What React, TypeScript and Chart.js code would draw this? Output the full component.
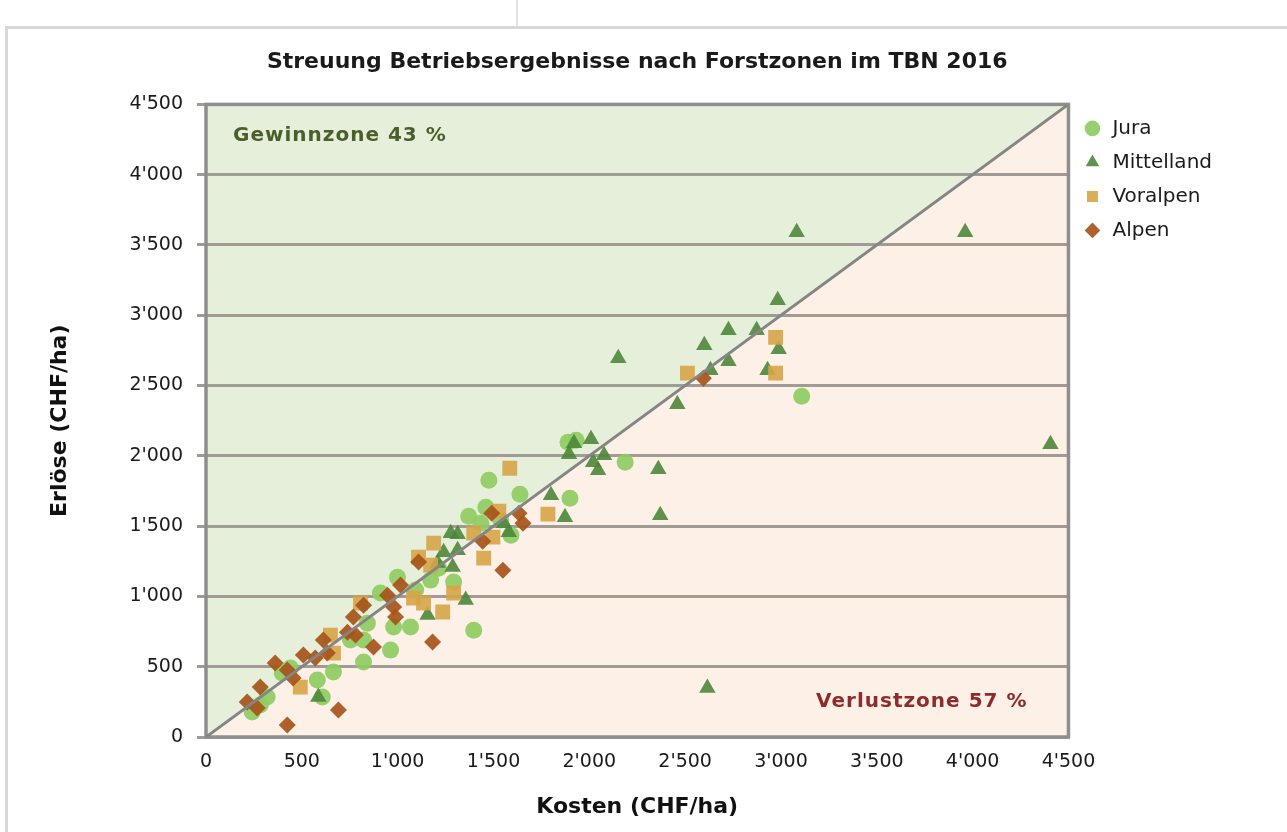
import React, { useEffect, useRef } from 'react';
import { Chart, registerables } from 'chart.js';

Chart.register(...registerables);

// ---------- text ----------
const TITLE = 'Streuung Betriebsergebnisse nach Forstzonen im TBN 2016';
const X_TITLE = 'Kosten (CHF/ha)';
const Y_TITLE = 'Erlöse (CHF/ha)';
const GAIN_LABEL = 'Gewinnzone 43 %';
const LOSS_LABEL = 'Verlustzone 57 %';

// ---------- axis ----------
const AXIS_MIN = 0;
const AXIS_MAX = 4500;
const AXIS_STEP = 500;

// ---------- series (Kosten, Erlöse) in CHF/ha ----------
const jura: [number, number][] = [
  [3108, 2424], [1889, 2097], [1931, 2111], [2187, 1955], [1899, 1699],
  [1638, 1727], [1476, 1827], [1371, 1571], [1460, 1635], [1591, 1436],
  [1434, 1521], [1538, 1543], [999, 1137], [910, 1024], [842, 810],
  [822, 690], [822, 533], [963, 618], [979, 782], [1067, 782],
  [581, 405], [665, 462], [607, 284], [319, 284], [241, 178],
  [283, 227], [1397, 760], [398, 455], [440, 490], [1292, 1102],
  [1214, 1201], [1172, 1116], [1094, 1045], [754, 690],
];

const mittelland: [number, number][] = [
  [3082, 3590], [3961, 3590], [4406, 2083], [2983, 3107], [2726, 2893],
  [2873, 2893], [2600, 2787], [2151, 2694], [2726, 2673], [2632, 2609],
  [2930, 2609], [2988, 2758], [2459, 2367], [2009, 2118], [1920, 2090],
  [1894, 2012], [2077, 2005], [2020, 1955], [2046, 1898], [2360, 1905],
  [1800, 1720], [1873, 1564], [2370, 1578], [2616, 348], [1277, 1450],
  [1313, 1443], [1240, 1315], [1313, 1329], [1554, 1521], [1287, 1209],
  [1355, 974], [1156, 867], [586, 284], [1209, 1237], [1580, 1457],
];

const voralpen: [number, number][] = [
  [2972, 2843], [2972, 2588], [2512, 2588], [1585, 1912], [1784, 1585],
  [1528, 1607], [1397, 1450], [1497, 1422], [1449, 1272], [1188, 1379],
  [1109, 1280], [1172, 1223], [806, 952], [649, 725], [665, 597],
  [492, 355], [1083, 988], [1135, 952], [1235, 889], [1292, 1024],
];

const alpen: [number, number][] = [
  [2595, 2552], [1491, 1592], [1633, 1592], [1654, 1521], [1444, 1393],
  [1549, 1187], [1109, 1244], [822, 938], [947, 1009], [1015, 1081],
  [979, 924], [989, 853], [769, 853], [738, 746], [780, 725],
  [874, 640], [612, 690], [508, 583], [570, 562], [633, 597],
  [455, 419], [424, 476], [361, 526], [283, 355], [215, 249],
  [267, 206], [424, 85], [691, 192], [1182, 675],
];

const diagonal: [number, number][] = [[AXIS_MIN, AXIS_MIN], [AXIS_MAX, AXIS_MAX]];

// ---------- styling ----------
const FONT = '"DejaVu Sans", Verdana, sans-serif';
const GRID = '#a09c95';
const FRAME = '#8e8e8e';

const fmt = (v: number) =>
  v >= 1000 ? `${Math.floor(v / 1000)}'${String(v % 1000).padStart(3, '0')}` : String(v);

const toPts = (arr: [number, number][]) => arr.map(([x, y]) => ({ x, y }));

const zonesPlugin = {
  id: 'zones',
  beforeDraw(chart: any) {
    const { ctx, scales } = chart;
    const x = scales.x, y = scales.y;
    const x0 = x.getPixelForValue(AXIS_MIN), x1 = x.getPixelForValue(AXIS_MAX);
    const y0 = y.getPixelForValue(AXIS_MIN), y1 = y.getPixelForValue(AXIS_MAX);
    ctx.save();
    ctx.fillStyle = '#e5efd9';
    ctx.beginPath();
    ctx.moveTo(x0, y0); ctx.lineTo(x0, y1); ctx.lineTo(x1, y1); ctx.closePath();
    ctx.fill();
    ctx.fillStyle = '#fdf0e7';
    ctx.beginPath();
    ctx.moveTo(x0, y0); ctx.lineTo(x1, y0); ctx.lineTo(x1, y1); ctx.closePath();
    ctx.fill();
    ctx.restore();
  },
  beforeDatasetsDraw(chart: any) {
    const { ctx, chartArea: a } = chart;
    ctx.save();
    ctx.strokeStyle = FRAME;
    ctx.lineWidth = 3.5;
    ctx.strokeRect(a.left, a.top, a.right - a.left, a.bottom - a.top);
    ctx.restore();
  },
  afterDatasetsDraw(chart: any) {
    const { ctx, chartArea: a } = chart;
    ctx.save();
    ctx.font = `bold 20px ${FONT}`;
    (ctx as any).letterSpacing = '1px';
    ctx.textBaseline = 'middle';
    ctx.fillStyle = '#4a5f2a';
    ctx.textAlign = 'left';
    ctx.fillText(GAIN_LABEL, a.left + 27, a.top + 31);
    ctx.fillStyle = '#8e2b2b';
    ctx.textAlign = 'right';
    ctx.fillText(LOSS_LABEL, a.right - 41, a.bottom - 35);
    ctx.restore();
  },
};

export default function App() {
  const ref = useRef<HTMLCanvasElement | null>(null);

  useEffect(() => {
    if (!ref.current) return;
    const chart = new Chart(ref.current, {
      type: 'scatter',
      data: {
        datasets: [
          {
            label: 'Jura', data: toPts(jura), pointStyle: 'circle', pointRadius: 8.5,
            backgroundColor: 'rgba(143,204,99,0.92)', borderColor: 'rgba(143,204,99,0.92)',
            borderWidth: 0, pointBorderWidth: 0, order: 4,
          },
          {
            label: 'Mittelland', data: toPts(mittelland), pointStyle: 'triangle', pointRadius: 9.5,
            backgroundColor: 'rgba(76,135,58,0.9)', borderColor: 'rgba(76,135,58,0.9)',
            borderWidth: 0, pointBorderWidth: 0, order: 3,
          },
          {
            label: 'Voralpen', data: toPts(voralpen), pointStyle: 'rect', pointRadius: 10.5,
            backgroundColor: 'rgba(214,164,72,0.9)', borderColor: 'rgba(214,164,72,0.9)',
            borderWidth: 0, pointBorderWidth: 0, order: 2,
          },
          {
            label: 'Alpen', data: toPts(alpen), pointStyle: 'rectRot', pointRadius: 8.5,
            backgroundColor: 'rgba(166,84,26,0.92)', borderColor: 'rgba(166,84,26,0.92)',
            borderWidth: 0, pointBorderWidth: 0, order: 1,
          },
          {
            label: '', data: toPts(diagonal), showLine: true, pointRadius: 0,
            borderColor: '#858585', borderWidth: 3, order: 0,
          } as any,
        ],
      },
      options: {
        responsive: false,
        animation: false,
        devicePixelRatio: 1,
        layout: { padding: { left: 0, top: 0, right: 65, bottom: 0 } },
        plugins: {
          tooltip: { enabled: false },
          title: {
            display: true, text: TITLE, fullSize: false, color: '#1a1a1a',
            font: { family: FONT, size: 22, weight: 'bold', lineHeight: 1.2 },
            padding: { top: 49, bottom: 29 },
          },
          legend: {
            display: true, position: 'right', align: 'start', fullSize: false,
            labels: {
              usePointStyle: true, boxWidth: 20, boxHeight: 11, padding: 14,
              color: '#1a1a1a', font: { family: FONT, size: 20 },
              filter: (item: any) => item.text !== '',
              sort: (a: any, b: any) => a.datasetIndex - b.datasetIndex,
            },
          },
        },
        scales: {
          x: {
            type: 'linear', min: AXIS_MIN, max: AXIS_MAX,
            ticks: {
              stepSize: AXIS_STEP, autoSkip: false, maxRotation: 0, padding: 6,
              color: '#1a1a1a', font: { family: FONT, size: 19 },
              callback: (v: any) => fmt(Number(v)),
            },
            grid: { display: false },
            border: { display: false },
            title: {
              display: true, text: X_TITLE, color: '#111',
              font: { family: FONT, size: 22, weight: 'bold', lineHeight: 1.2 },
              padding: { top: 0, bottom: 12 },
            },
            afterFit: (s: any) => { s.height = 95; },
          },
          y: {
            type: 'linear', min: AXIS_MIN, max: AXIS_MAX,
            ticks: {
              stepSize: AXIS_STEP, padding: 14,
              color: '#1a1a1a', font: { family: FONT, size: 19 },
              callback: (v: any) => fmt(Number(v)),
            },
            grid: { color: GRID, lineWidth: 3, tickLength: 9, drawTicks: true },
            border: { display: false },
            title: {
              display: true, text: Y_TITLE, color: '#111',
              font: { family: FONT, size: 22, weight: 'bold', lineHeight: 1.2 },
              padding: { top: 47, bottom: 0 },
            },
            afterFit: (s: any) => { s.width = 206; },
          },
        },
      } as any,
      plugins: [zonesPlugin],
    });
    return () => chart.destroy();
  }, []);

  return (
    <div style={{ position: 'absolute', left: 0, top: 0, width: 1287, height: 832, background: '#fff', overflow: 'hidden' }}>
      <div style={{ position: 'absolute', left: 5, top: 26, width: 1282, height: 3, background: '#d8d8d8' }} />
      <div style={{ position: 'absolute', left: 5, top: 26, width: 3, height: 806, background: '#d8d8d8' }} />
      <div style={{ position: 'absolute', left: 516, top: 0, width: 2, height: 26, background: '#e2e2e2' }} />
      <canvas ref={ref} width={1287} height={832} style={{ position: 'absolute', left: 0, top: 0 }} />
    </div>
  );
}
